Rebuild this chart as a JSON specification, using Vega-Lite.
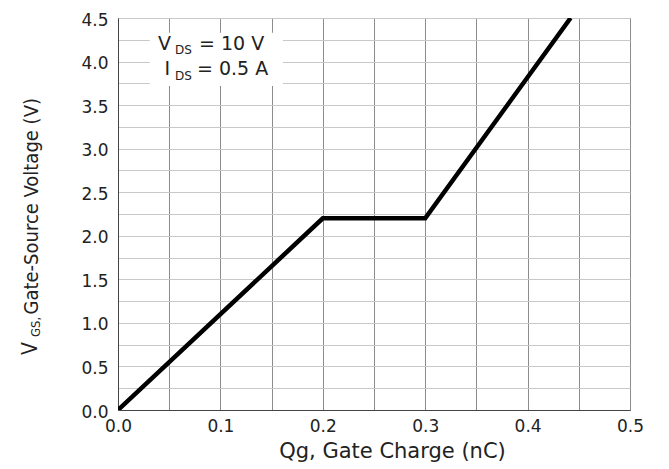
{
  "$schema": "https://vega.github.io/schema/vega-lite/v6.json",
  "width": 512,
  "height": 392,
  "autosize": {"type": "none"},
  "padding": {"left": 118, "top": 18, "right": 39, "bottom": 59},
  "background": "white",
  "config": {"view": {"stroke": "#6e6e6e", "strokeWidth": 1}},
  "datasets": {
    "curve": [
      {"qg": 0, "vgs": 0},
      {"qg": 0.2, "vgs": 2.2},
      {"qg": 0.3, "vgs": 2.2},
      {"qg": 0.442, "vgs": 4.5}
    ],
    "box": [{"qg": 0.031, "qg2": 0.161, "vgs": 3.72, "vgs2": 4.33}],
    "big": [
      {"t": "V", "qg": 0.0391, "vgs": 4.133},
      {"t": "= 10 V", "qg": 0.0791, "vgs": 4.133},
      {"t": "I", "qg": 0.0455, "vgs": 3.846},
      {"t": "= 0.5 A", "qg": 0.0771, "vgs": 3.846}
    ],
    "sub": [
      {"t": "DS", "qg": 0.0556, "vgs": 4.087},
      {"t": "DS", "qg": 0.0556, "vgs": 3.788}
    ],
    "ybig": [{"t": "V", "qg": -0.0791, "vgs": 0.631}],
    "ysub": [{"t": "GS,", "qg": -0.0762, "vgs": 0.838}]
  },
  "encoding": {
    "x": {
      "field": "qg",
      "type": "quantitative",
      "scale": {"domain": [0, 0.5], "nice": false, "zero": false},
      "axis": {
        "values": [0, 0.05, 0.1, 0.15, 0.2, 0.25, 0.3, 0.35, 0.4, 0.45, 0.5],
        "labelExpr": "round(datum.value*100) % 10 == 0 ? format(datum.value, '.1f') : ''",
        "ticks": false,
        "grid": true,
        "gridColor": "#8c8c8c",
        "gridWidth": 1,
        "domainColor": "#444444",
        "labelFont": "DejaVu Sans",
        "labelFontSize": 17,
        "labelColor": "#222222",
        "labelPadding": 8,
        "labelFlush": false,
        "labelOverlap": false,
        "title": "Qg, Gate Charge (nC)",
        "titleFont": "DejaVu Sans",
        "titleFontSize": 21,
        "titleFontWeight": "normal",
        "titleColor": "#222222",
        "titleX": 274,
        "titleY": 47,
        "titleAlign": "center",
        "titleBaseline": "alphabetic"
      }
    },
    "y": {
      "field": "vgs",
      "type": "quantitative",
      "scale": {"domain": [0, 4.5], "nice": false, "zero": false},
      "axis": {
        "values": [0, 0.25, 0.5, 0.75, 1, 1.25, 1.5, 1.75, 2, 2.25, 2.5, 2.75, 3, 3.25, 3.5, 3.75, 4, 4.25, 4.5],
        "labelExpr": "round(datum.value*100) % 50 == 0 ? format(datum.value, '.1f') : ''",
        "ticks": false,
        "grid": true,
        "gridColor": "#c8c8c8",
        "gridWidth": 1.2,
        "domainColor": "#444444",
        "labelFont": "DejaVu Sans",
        "labelFontSize": 17,
        "labelColor": "#222222",
        "labelPadding": 10,
        "labelOffset": 2,
        "labelFlush": false,
        "labelOverlap": false,
        "title": "Gate-Source Voltage (V)",
        "titleFont": "Liberation Sans Narrow, DejaVu Sans Condensed, Liberation Sans",
        "titleFontSize": 20,
        "titleFontWeight": "normal",
        "titleColor": "#222222",
        "titleAngle": 270,
        "titleAlign": "left",
        "titleBaseline": "alphabetic",
        "titleX": -81,
        "titleY": 296
      }
    }
  },
  "layer": [
    {
      "data": {"name": "box"},
      "mark": {"type": "rect", "fill": "white", "stroke": null},
      "encoding": {"x2": {"field": "qg2"}, "y2": {"field": "vgs2"}}
    },
    {
      "data": {"name": "curve"},
      "mark": {"type": "line", "color": "black", "strokeWidth": 4.5, "strokeJoin": "miter", "strokeCap": "butt", "clip": true}
    },
    {
      "data": {"name": "big"},
      "mark": {"type": "text", "font": "DejaVu Sans", "fontSize": 19, "align": "left", "baseline": "alphabetic", "color": "#222222"},
      "encoding": {"text": {"field": "t"}}
    },
    {
      "data": {"name": "sub"},
      "mark": {"type": "text", "font": "DejaVu Sans", "fontSize": 12, "align": "left", "baseline": "alphabetic", "color": "#222222"},
      "encoding": {"text": {"field": "t"}}
    },
    {
      "data": {"name": "ybig"},
      "mark": {"type": "text", "font": "Liberation Sans Narrow, DejaVu Sans Condensed, Liberation Sans", "fontSize": 21, "angle": 270, "align": "left", "baseline": "alphabetic", "color": "#222222"},
      "encoding": {"text": {"field": "t"}}
    },
    {
      "data": {"name": "ysub"},
      "mark": {"type": "text", "font": "Liberation Sans Narrow, DejaVu Sans Condensed, Liberation Sans", "fontSize": 13, "angle": 270, "align": "left", "baseline": "alphabetic", "color": "#222222"},
      "encoding": {"text": {"field": "t"}}
    }
  ]
}
